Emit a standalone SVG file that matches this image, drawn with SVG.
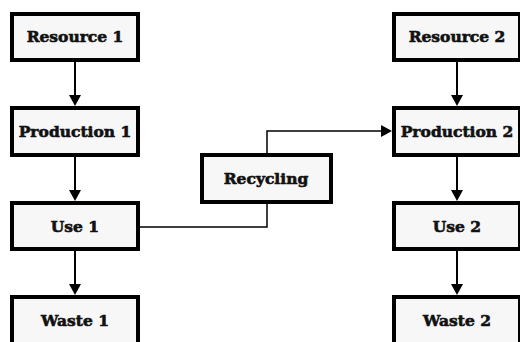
<svg xmlns="http://www.w3.org/2000/svg" width="520" height="342" viewBox="0 0 520 342">
<style>
.box{fill:#f7f7f7;stroke:#000;stroke-width:4}
.lbl{font-family:"DejaVu Serif",serif;font-weight:bold;font-size:15.5px;fill:#111;stroke:#111;stroke-width:0.6;text-anchor:middle}
.arr{stroke:#000;stroke-width:2;fill:none}
.thin{stroke:#000;stroke-width:1.5;fill:none}
.head{fill:#000}
</style>
<rect width="520" height="342" fill="#fff"/>
<g id="connectors">
<line class="arr" x1="75" y1="62" x2="75" y2="96"/>
<polygon class="head" points="69,95 81,95 75,106"/>
<line class="arr" x1="75" y1="157" x2="75" y2="191"/>
<polygon class="head" points="69,190 81,190 75,201"/>
<line class="arr" x1="75" y1="251" x2="75" y2="285"/>
<polygon class="head" points="69,284 81,284 75,295"/>
<line class="arr" x1="457" y1="62" x2="457" y2="96"/>
<polygon class="head" points="451,95 463,95 457,106"/>
<line class="arr" x1="457" y1="157" x2="457" y2="191"/>
<polygon class="head" points="451,190 463,190 457,201"/>
<line class="arr" x1="457" y1="251" x2="457" y2="285"/>
<polygon class="head" points="451,284 463,284 457,295"/>
<polyline class="thin" points="140,227 267,227 267,204"/>
<polyline class="thin" points="267,153 267,131 382,131"/>
<polygon class="head" points="381,125 381,137 392,131"/>
</g>
<g id="resource1"><rect class="box" x="12" y="14" width="126" height="46"/><text class="lbl" x="75" y="42">Resource 1</text></g>
<g id="production1"><rect class="box" x="12" y="108" width="126" height="47"/><text class="lbl" x="75" y="137">Production 1</text></g>
<g id="use1"><rect class="box" x="12" y="203" width="126" height="46"/><text class="lbl" x="75" y="232">Use 1</text></g>
<g id="waste1"><rect class="box" x="12" y="297" width="126" height="60"/><text class="lbl" x="75" y="326">Waste 1</text></g>
<g id="recycling"><rect class="box" x="202" y="155" width="129" height="47"/><text class="lbl" x="266" y="184">Recycling</text></g>
<g id="resource2"><rect class="box" x="394" y="14" width="126" height="46"/><text class="lbl" x="457" y="42">Resource 2</text></g>
<g id="production2"><rect class="box" x="394" y="108" width="126" height="47"/><text class="lbl" x="457" y="137">Production 2</text></g>
<g id="use2"><rect class="box" x="394" y="203" width="126" height="46"/><text class="lbl" x="457" y="232">Use 2</text></g>
<g id="waste2"><rect class="box" x="394" y="297" width="126" height="60"/><text class="lbl" x="457" y="326">Waste 2</text></g>
</svg>
